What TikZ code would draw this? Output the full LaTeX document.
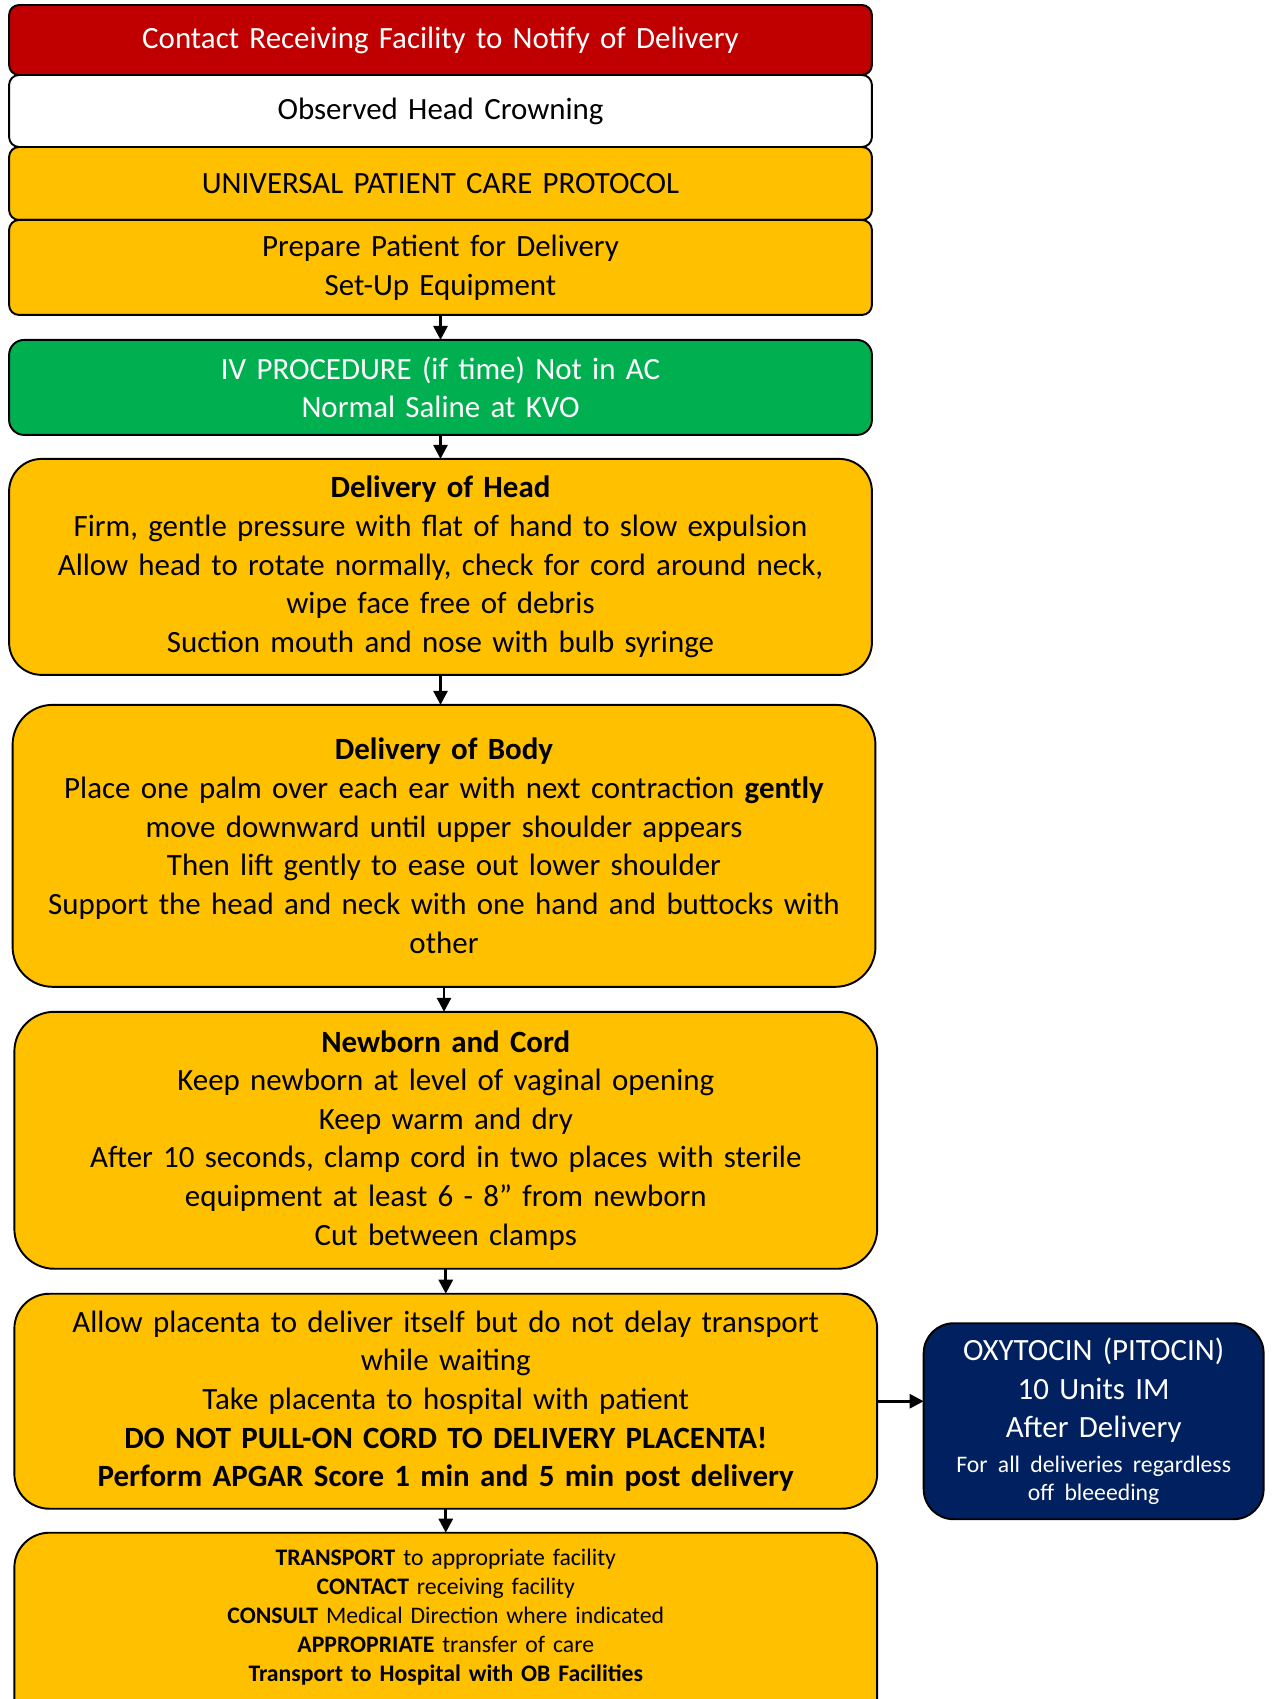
\documentclass[tikz,border=0pt]{standalone}
\usepackage{fontspec}
\setmainfont{Carlito}
\usepackage[dvipsnames,svgnames]{xcolor}
\usepackage{tikz}
\usetikzlibrary{shapes.geometric, arrows.meta, positioning, calc}
\definecolor{alertred}{HTML}{C00000}
\definecolor{careyellow}{HTML}{FFC000}
\definecolor{ivgreen}{HTML}{00B050}
\definecolor{drugnavy}{HTML}{002060}

\begin{document}
\begin{tikzpicture}[
  x=0.02cm, y=0.02cm,
  flowbox/.style={rectangle, rounded corners=#1, draw=black, line width=1.1pt, fill=careyellow,
    text width=17cm, inner xsep=0.13cm, inner ysep=0pt, outer sep=0pt, align=center,
    font=\fontsize{17.6}{22}\selectfont},
  flowbox/.default=0.2cm,
  smalltext/.style={font=\fontsize{13.5}{16.6}\selectfont},
  drugbox/.style={rectangle, rounded corners=0.6cm, draw=black, line width=1.1pt, fill=drugnavy,
    text=white, text width=6.6cm, inner xsep=0.1cm, outer sep=0pt, align=center, minimum height=3.92cm,
    font=\fontsize{17.6}{22}\selectfont},
  flowarrow/.style={line width=1.6pt, -{Triangle[width=8pt,length=8pt]}}
]
\useasboundingbox (0,0) rectangle (1271,-1699);
\clip (0,0) rectangle (1271,-1699);

% top stack
\node[flowbox, fill=alertred, text=white, minimum height=1.40cm] (notify) at (440.5,-40)
  {Contact Receiving Facility to Notify of Delivery};
\node[flowbox, fill=white, minimum height=1.44cm, below=0pt of notify] (crown)
  {Observed Head Crowning};
\node[flowbox, minimum height=1.46cm, below=0pt of crown] (upcp)
  {UNIVERSAL PATIENT CARE PROTOCOL};
\node[flowbox, minimum height=1.90cm, below=0pt of upcp] (prep)
  {Prepare Patient for Delivery\\Set-Up Equipment};

% main steps
\node[flowbox=0.3cm, fill=ivgreen, text=white, minimum height=1.90cm, below=0.5cm of prep] (iv)
  {IV PROCEDURE (if time) Not in AC\\Normal Saline at KVO};
\node[flowbox=0.65cm, minimum height=4.32cm, below=0.48cm of iv] (head)
  {\textbf{Delivery of Head}\\
   Firm, gentle pressure with flat of hand to slow expulsion\\
   Allow head to rotate normally, check for cord around neck,\\
   wipe face free of debris\\
   Suction mouth and nose with bulb syringe};
\node[flowbox=0.8cm, minimum height=5.64cm, below=0.6cm of head, xshift=2] (body)
  {\textbf{Delivery of Body}\\
   Place one palm over each ear with next contraction \textbf{gently}\\
   move downward until upper shoulder appears\\
   Then lift gently to ease out lower shoulder\\
   Support the head and neck with one hand and buttocks with\\
   other};
\node[flowbox=0.8cm, minimum height=5.14cm, below=0.5cm of body, xshift=1] (cord)
  {\textbf{Newborn and Cord}\\
   Keep newborn at level of vaginal opening\\
   Keep warm and dry\\
   After 10 seconds, clamp cord in two places with sterile\\
   equipment at least 6 - 8” from newborn\\
   Cut between clamps};
\node[flowbox=0.7cm, minimum height=4.30cm, below=0.5cm of cord] (placenta)
  {Allow placenta to deliver itself but do not delay transport\\
   while waiting\\
   Take placenta to hospital with patient\\
   \textbf{DO NOT PULL-ON CORD TO DELIVERY PLACENTA!}\\
   \textbf{Perform APGAR Score 1 min and 5 min post delivery}};
\node[flowbox=0.7cm, smalltext, minimum height=4.15cm, below=0.48cm of placenta] (transport)
  {\textbf{TRANSPORT} to appropriate facility\\
   \textbf{CONTACT} receiving facility\\
   \textbf{CONSULT} Medical Direction where indicated\\
   \textbf{APPROPRIATE} transfer of care\\
   \textbf{Transport to Hospital with OB Facilities}\rule[-0.85cm]{0pt}{0.85cm}};

% side drug box
\node[drugbox, right=0.93cm of placenta, yshift=-0.4cm] (oxy)
  {OXYTOCIN (PITOCIN)\\
   10 Units IM\\
   After Delivery\\[-2.3pt]
   {\fontsize{13.5}{16}\selectfont For all deliveries regardless}\\[-6pt]
   {\fontsize{13.5}{16}\selectfont off bleeeding}};

% connectors
\draw[flowarrow] (prep) -- (iv);
\draw[flowarrow] (iv) -- (head);
\draw[flowarrow] (head.south) -- (head.south |- body.north);
\draw[flowarrow] (body.south) -- (body.south |- cord.north);
\draw[flowarrow] (cord) -- (placenta);
\draw[flowarrow] (placenta) -- (transport);
\draw[flowarrow] (placenta.east) -- (placenta.east -| oxy.west);
\end{tikzpicture}
\end{document}
